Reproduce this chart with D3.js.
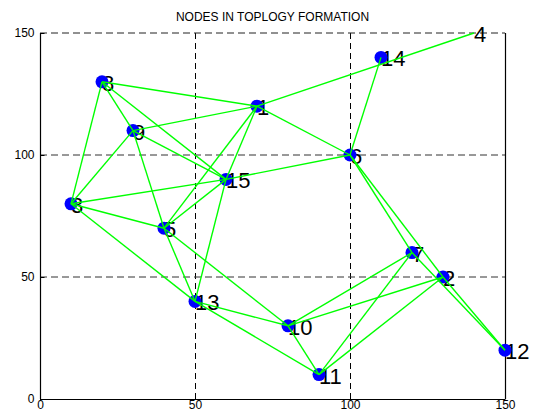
<!DOCTYPE html>
<html>
<head>
<meta charset="utf-8">
<script src="https://cdn.jsdelivr.net/npm/d3@7/dist/d3.min.js"></script>
<style>
  html, body { margin: 0; padding: 0; background: #fff; }
  svg { display: block; font-family: "Liberation Sans", Arial, Helvetica, sans-serif; }
</style>
</head>
<body>
<svg id="chart" width="533" height="415"></svg>
<script>
// Node ids and their field positions
const nodeIds = [1, 2, 3, 4, 5, 6, 7, 8, 9, 10, 11, 12, 13, 14, 15];
const nodeX   = [70, 130, 10, 140, 40, 100, 120, 20, 30, 80, 90, 150, 50, 110, 60];
const nodeY   = [120, 50, 80, 150, 70, 100, 60, 130, 110, 30, 10, 20, 40, 140, 90];
// nodes drawn without a marker
const hiddenMarkers = [4];

// Links between nodes (by id)
const linkFrom = [8, 8, 8, 8, 9, 9, 9, 9, 3, 3, 3, 1, 14, 1, 1, 1, 15, 15, 15, 5, 5, 13, 13, 6, 6, 7, 2, 7, 7, 2, 2, 10];
const linkTo   = [1, 9, 15, 3, 1, 15, 3, 5, 15, 5, 13, 4, 6, 6, 5, 15, 6, 5, 13, 13, 10, 10, 11, 7, 2, 12, 12, 10, 11, 10, 11, 11];

const xTicks = [0, 50, 100, 150];
const yTicks = [0, 50, 100, 150];
const titleText = "NODES IN TOPLOGY FORMATION";

const margin = { left: 40, right: 28, top: 33, bottom: 16 };
const W = 533, H = 415;
const svg = d3.select("#chart");

const x = d3.scaleLinear().domain([0, 150]).range([margin.left, W - margin.right]);
const y = d3.scaleLinear().domain([0, 150]).range([H - margin.bottom, margin.top]);

const pos = {};
nodeIds.forEach((id, i) => { pos[id] = { x: nodeX[i], y: nodeY[i] }; });

// dashed grid
const grid = svg.append("g");
grid.selectAll("line.gx").data(xTicks.filter(t => t > 0 && t < 150)).join("line")
  .attr("x1", d => Math.round(x(d)) + 0.5).attr("x2", d => Math.round(x(d)) + 0.5)
  .attr("y1", y(0)).attr("y2", y(150))
  .attr("stroke", "#000").attr("stroke-width", 1).attr("stroke-dasharray", "6,4");
grid.selectAll("line.gy").data(yTicks.filter(t => t > 0)).join("line")
  .attr("x1", x(0)).attr("x2", x(150))
  .attr("y1", d => Math.round(y(d))).attr("y2", d => Math.round(y(d)))
  .attr("stroke", d => d === 150 ? "#222" : "#333").attr("stroke-width", 1).attr("stroke-dasharray", "7,4");

// axes
const xAxis = d3.axisBottom(x).tickValues(xTicks).tickSize(-4).tickPadding(2).tickFormat(d3.format("d"));
const yAxis = d3.axisLeft(y).tickValues(yTicks).tickSize(-4).tickPadding(6).tickFormat(d3.format("d"));

const gx = svg.append("g").attr("transform", `translate(0,${Math.round(y(0)) + 0.5})`).call(xAxis);
const gy = svg.append("g").attr("transform", `translate(${Math.round(x(0)) + 0.5},0)`).call(yAxis);
[gx, gy].forEach(g => {
  g.select(".domain").attr("stroke", "#000").attr("stroke-width", 1.2);
  g.selectAll(".tick line").attr("stroke", "#000");
  g.selectAll(".tick text").attr("fill", "#000").attr("font-size", 12)
    .attr("font-family", '"Liberation Sans", Arial, sans-serif');
});
gy.select(".domain").attr("d", `M0,${y(0)}V${y(150)}`);
gx.select(".domain").attr("d", `M${x(0)},0H${x(150)}`);
gx.selectAll(".tick text").attr("dy", "0.65em");

// right border
svg.append("line")
  .attr("x1", Math.round(x(150)) + 0.5).attr("x2", Math.round(x(150)) + 0.5)
  .attr("y1", y(0)).attr("y2", y(150))
  .attr("stroke", "#000").attr("stroke-width", 1.2);

// title
svg.append("text")
  .attr("x", (x(0) + x(150)) / 2).attr("y", 21)
  .attr("text-anchor", "middle").attr("font-size", 12).attr("fill", "#000")
  .text(titleText);

// node labels
svg.append("g").selectAll("text").data(nodeIds).join("text")
  .attr("x", d => x(pos[d].x))
  .attr("y", d => y(pos[d].y) + 9)
  .attr("font-size", 22).attr("fill", "#000")
  .text(d => d);

// node markers
svg.append("g").selectAll("circle").data(nodeIds.filter(d => !hiddenMarkers.includes(d))).join("circle")
  .attr("cx", d => x(pos[d].x)).attr("cy", d => y(pos[d].y))
  .attr("r", 6.5).attr("fill", "#0000ff");

// links
svg.append("g").selectAll("line").data(linkFrom.map((f, i) => [f, linkTo[i]])).join("line")
  .attr("x1", d => x(pos[d[0]].x)).attr("y1", d => y(pos[d[0]].y))
  .attr("x2", d => x(pos[d[1]].x)).attr("y2", d => y(pos[d[1]].y))
  .attr("stroke", "#00ff00").attr("stroke-width", 1.4);
</script>
</body>
</html>
